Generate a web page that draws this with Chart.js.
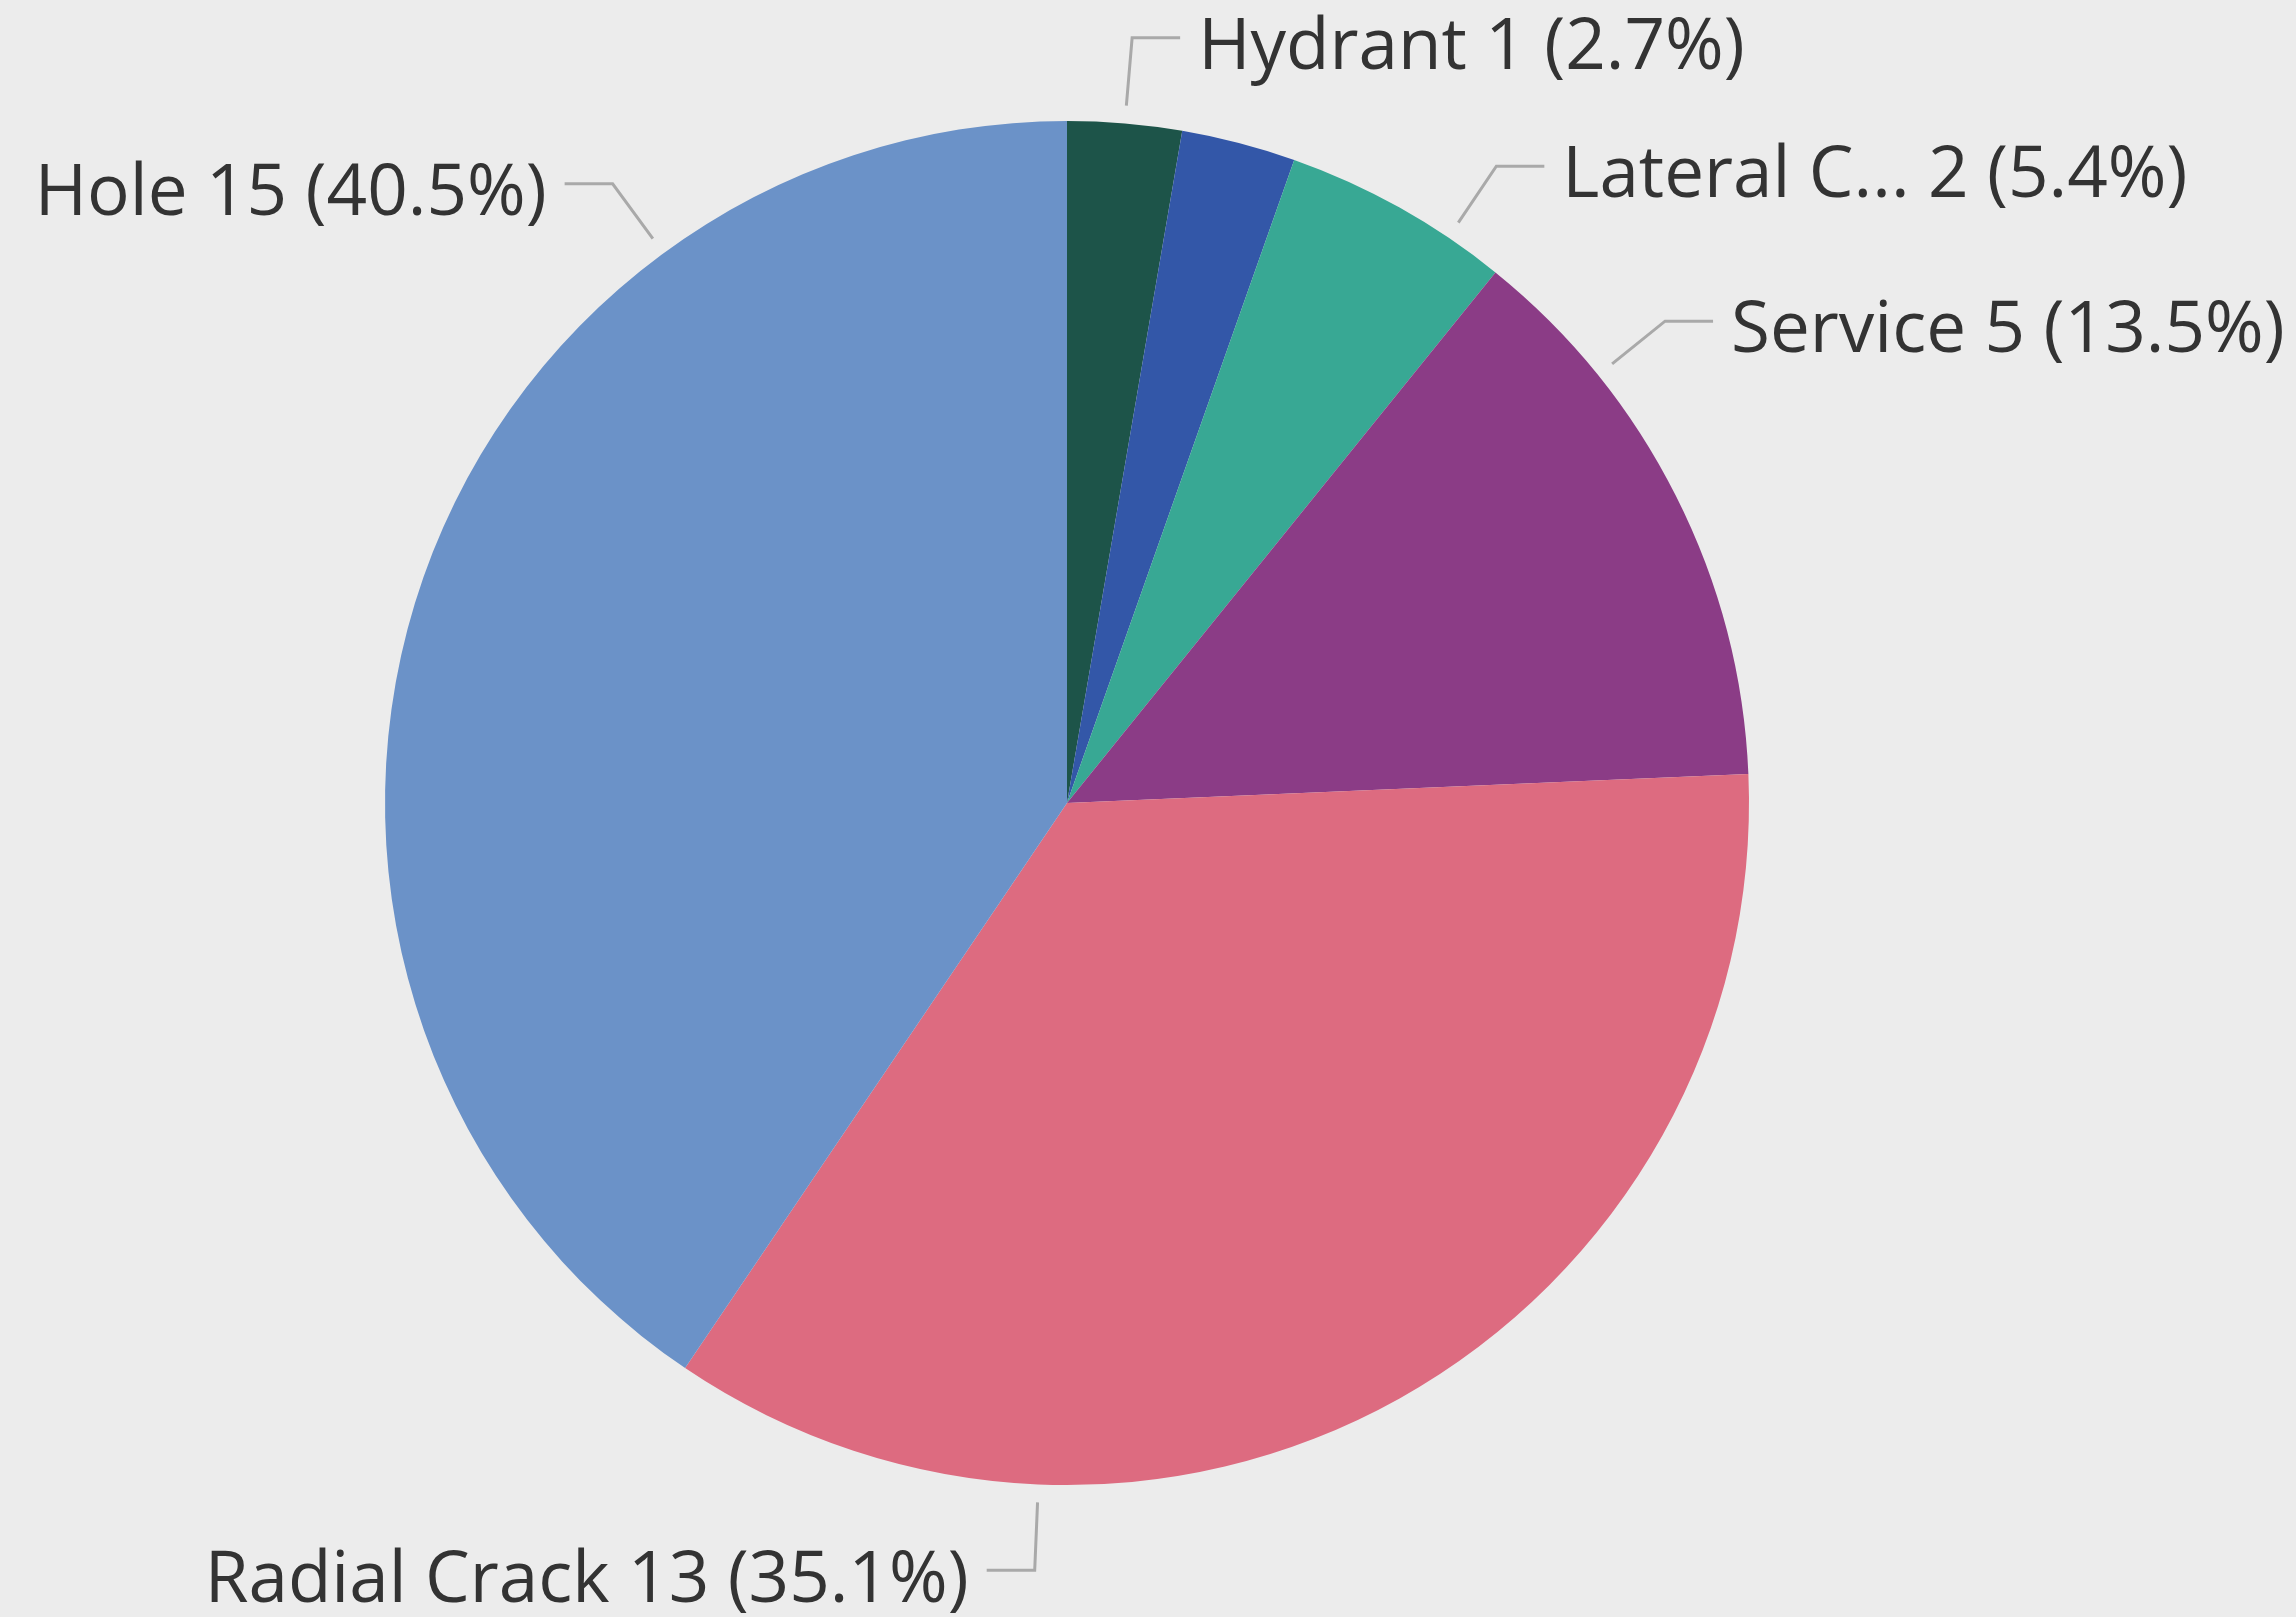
<!DOCTYPE html>
<html>
<head>
<meta charset="utf-8">
<script src="https://cdn.jsdelivr.net/npm/chart.js@4/dist/chart.umd.min.js"></script>
<style>
  html, body { margin: 0; padding: 0; background: #ececec; }
  #wrap { width: 2296px; height: 1617px; position: relative; }
</style>
</head>
<body>
<div id="wrap"><canvas id="pie_chart"></canvas></div>
<script>
// data
var categories = ['Hydrant', '', 'Lateral C...', 'Service', 'Radial Crack', 'Hole'];
var counts = [1, 1, 2, 5, 13, 15];
var showLabel = [true, false, true, true, true, true];
var sliceColors = ['#1d5449', '#3357a8', '#38a894', '#8b3c86', '#dd6b80', '#6b92c8'];

// leader lines get nudged away from the slice middle (degrees, clockwise)
var leaderShift = [0, 0, 4.8, -12.1, 31.6, 36.7];

var total = counts.reduce(function (a, b) { return a + b; }, 0);

var pieLabels = {
  id: 'pieLabels',
  afterDatasetsDraw: function (chart) {
    var ctx = chart.ctx;
    var arcs = chart.getDatasetMeta(0).data;
    ctx.save();
    ctx.font = '71px "Open Sans", "Noto Sans", sans-serif';
    ctx.textBaseline = 'middle';
    arcs.forEach(function (arc, i) {
      if (!showLabel[i]) return;
      var p = arc.getProps(['x', 'y', 'startAngle', 'endAngle', 'outerRadius'], true);
      var a = (p.startAngle + p.endAngle) / 2 + leaderShift[i] * Math.PI / 180;
      var r1 = p.outerRadius + 18, r2 = p.outerRadius + 86;
      var x1 = p.x + r1 * Math.cos(a), y1 = p.y + r1 * Math.sin(a);
      var x2 = p.x + r2 * Math.cos(a), y2 = p.y + r2 * Math.sin(a);
      var dir = Math.cos(a) >= 0 ? 1 : -1;
      if (Math.abs(Math.cos(a)) < 0.1) dir = Math.sin(a) < 0 ? 1 : -1;
      var x3 = x2 + dir * 48;

      ctx.strokeStyle = '#a9a9a9';
      ctx.lineWidth = 3;
      ctx.beginPath();
      ctx.moveTo(x1, y1);
      ctx.lineTo(x2, y2);
      ctx.lineTo(x3, y2);
      ctx.stroke();

      var pct = (counts[i] / total * 100).toFixed(1);
      var txt = categories[i] + ' ' + counts[i] + ' (' + pct + '%)';
      ctx.fillStyle = '#333333';
      ctx.textAlign = dir > 0 ? 'left' : 'right';
      ctx.fillText(txt, x3 + dir * 18, y2 + 11);
    });
    ctx.restore();
  }
};

var ctx = document.getElementById('pie_chart');
var myPie = new Chart(ctx, {
  type: 'pie',
  data: {
    labels: categories,
    datasets: [{
      data: counts,
      backgroundColor: sliceColors,
      borderWidth: 0
    }]
  },
  options: {
    responsive: true,
    maintainAspectRatio: false,
    animation: false,
    layout: {
      padding: { left: 385, right: 547, top: 121, bottom: 132 }
    },
    plugins: {
      legend: { display: false },
      tooltip: { enabled: false }
    }
  },
  plugins: [pieLabels]
});
</script>
</body>
</html>
